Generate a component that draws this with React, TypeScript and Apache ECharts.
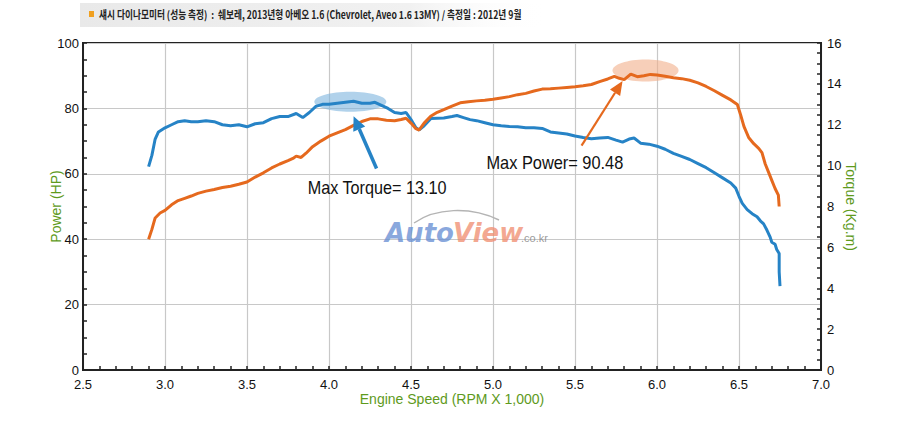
import { useEffect, useRef } from 'react';
import * as echarts from 'echarts';

const TITLE = '섀시 다이나모미터 (성능 측정)  :  쉐보레, 2013년형 아베오 1.6 (Chevrolet, Aveo 1.6 13MY) / 측정일 : 2012년 9월';
const X_NAME = 'Engine Speed (RPM X 1,000)';
const LEFT_NAME = 'Power (HP)';
const RIGHT_NAME = 'Torque (Kg.m)';

// torque curve (kg.m) vs engine speed (x1000 rpm)
const torqueRpm = [
  2.9, 2.92, 2.94, 2.96, 3.0, 3.04, 3.08, 3.12, 3.16, 3.2, 3.25, 3.3, 3.35, 3.4, 3.45, 3.5, 3.55, 3.6, 3.65, 3.7,
  3.75, 3.8, 3.84, 3.88, 3.92, 3.96, 4.0, 4.05, 4.1, 4.15, 4.2, 4.25, 4.28, 4.32, 4.36, 4.4, 4.44, 4.47, 4.5, 4.53,
  4.55, 4.58, 4.62, 4.66, 4.7, 4.75, 4.78, 4.82, 4.86, 4.9, 4.95, 5.0, 5.05, 5.1, 5.15, 5.2, 5.25, 5.3, 5.35, 5.4,
  5.45, 5.5, 5.55, 5.6, 5.65, 5.7, 5.75, 5.79, 5.83, 5.86, 5.9, 5.95, 6.0, 6.05, 6.1, 6.15, 6.2, 6.25, 6.3, 6.35,
  6.4, 6.45, 6.48, 6.5, 6.52, 6.55, 6.58, 6.61, 6.63, 6.65, 6.67, 6.69, 6.7, 6.72, 6.73, 6.745, 6.745, 6.75,
];
const torque = [
  9.95, 10.5, 11.3, 11.65, 11.85, 12.0, 12.15, 12.2, 12.15, 12.15, 12.2, 12.15, 12.0, 11.95, 12.0, 11.9, 12.05, 12.1, 12.3, 12.4,
  12.4, 12.55, 12.35, 12.6, 12.9, 13.0, 13.0, 13.05, 13.1, 13.15, 13.05, 13.05, 13.1, 12.95, 12.8, 12.6, 12.55, 12.6, 12.25, 11.85,
  11.75, 11.95, 12.3, 12.32, 12.33, 12.4, 12.45, 12.35, 12.25, 12.2, 12.1, 12.0, 11.95, 11.92, 11.9, 11.85, 11.85, 11.82, 11.65, 11.6,
  11.55, 11.45, 11.38, 11.32, 11.35, 11.38, 11.25, 11.15, 11.3, 11.35, 11.1, 11.05, 10.95, 10.8, 10.6, 10.45, 10.3, 10.1, 9.9, 9.65,
  9.4, 9.15, 8.9, 8.5, 8.15, 7.85, 7.65, 7.5, 7.3, 7.15, 6.85, 6.5, 6.25, 6.15, 5.9, 5.7, 4.8, 4.1,
];

// power curve (HP) vs engine speed (x1000 rpm)
const powerRpm = [
  2.9, 2.92, 2.94, 2.97, 3.0, 3.04, 3.08, 3.12, 3.16, 3.2, 3.25, 3.3, 3.35, 3.4, 3.45, 3.5, 3.55, 3.6, 3.65, 3.7,
  3.75, 3.78, 3.8, 3.83, 3.86, 3.9, 3.95, 4.0, 4.05, 4.1, 4.15, 4.2, 4.25, 4.3, 4.35, 4.4, 4.44, 4.47, 4.5, 4.53,
  4.55, 4.58, 4.62, 4.66, 4.7, 4.75, 4.8, 4.85, 4.9, 4.95, 5.0, 5.05, 5.1, 5.15, 5.2, 5.25, 5.3, 5.35, 5.4, 5.45,
  5.5, 5.55, 5.6, 5.65, 5.7, 5.74, 5.77, 5.8, 5.84, 5.88, 5.92, 5.96, 6.0, 6.05, 6.1, 6.15, 6.2, 6.25, 6.3, 6.35,
  6.4, 6.45, 6.49, 6.51, 6.53, 6.56, 6.59, 6.62, 6.64, 6.66, 6.68, 6.7, 6.72, 6.74, 6.745,
];
const power = [
  40, 43, 46.5, 48, 48.8, 50.5, 51.8, 52.5, 53.2, 54, 54.7, 55.2, 55.8, 56.2, 56.8, 57.5, 59, 60.3, 61.8, 63,
  64, 64.7, 65.4, 65, 66.3, 68.3, 70, 71.5, 72.5, 73.5, 74.8, 76, 76.8, 76.8, 76.4, 76.2, 76.6, 77, 75.5, 73.8,
  73.4, 75.5, 77.6, 78.8, 79.6, 80.7, 81.7, 82, 82.3, 82.5, 82.8, 83.2, 83.6, 84.2, 84.6, 85.3, 85.9, 86, 86.2, 86.4,
  86.6, 86.9, 87.3, 88.2, 89, 89.8, 89.2, 88.8, 90.48, 89.7, 90.0, 90.4, 90.2, 89.8, 89.4, 89.1, 88.6, 87.8, 86.7, 85.4,
  84, 82.6, 81.2, 78, 74.5, 71, 69.2, 67.8, 66.5, 63, 60.5, 58, 55.5, 53.5, 50,
];

// annotation anchors, in (rpm, HP) data coordinates
const torqueNote = { text: 'Max Torque= 13.10', label: [3.87, 55.5], ellipse: [4.13, 82.0], tail: [4.29, 61.6], tip: [4.15, 77.6] };
const powerNote = { text: 'Max Power= 90.48', label: [4.96, 63.4], ellipse: [5.93, 91.6], tail: [5.54, 68.6], tip: [5.79, 88.4] };

const GREEN = '#5e9a1c';
const BLUE = '#2683c6';
const ORANGE = '#e5691e';
const SANS = "'Liberation Sans', Arial, sans-serif";

function arrow(tail: number[], tip: number[], color: string, width: number, headLen: number, headW: number) {
  const dx = tip[0] - tail[0];
  const dy = tip[1] - tail[1];
  const len = Math.hypot(dx, dy);
  const ux = dx / len;
  const uy = dy / len;
  const bx = tip[0] - ux * headLen;
  const by = tip[1] - uy * headLen;
  return [
    { type: 'line', z: 100, shape: { x1: tail[0], y1: tail[1], x2: bx, y2: by }, style: { stroke: color, lineWidth: width } },
    {
      type: 'polygon',
      z: 100,
      shape: { points: [tip, [bx - uy * headW, by + ux * headW], [bx + uy * headW, by - ux * headW]] },
      style: { fill: color },
    },
  ];
}

export default function App() {
  const chartRef = useRef<HTMLDivElement | null>(null);

  useEffect(() => {
    if (!chartRef.current) {
      return;
    }
    const chart = echarts.init(chartRef.current, undefined, { renderer: 'svg' });
    const axisLine = { lineStyle: { color: '#222', width: 2 } };
    const tick = { inside: true, length: 4, lineStyle: { color: '#222', width: 1.5 } };
    const label = { color: '#111', fontSize: 13, lineHeight: 14, fontFamily: SANS };
    const nameStyle = { color: GREEN, fontSize: 14, lineHeight: 15, fontFamily: SANS };
    chart.setOption({
      animation: false,
      grid: { left: 83, right: 79, top: 43, bottom: 52, show: true, borderColor: '#222', borderWidth: 2 },
      xAxis: {
        type: 'value',
        min: 2.5,
        max: 7,
        interval: 0.5,
        name: X_NAME,
        nameLocation: 'middle',
        nameGap: 21,
        nameMoveOverlap: false,
        nameTextStyle: nameStyle,
        axisLine,
        axisTick: tick,
        minorTick: { show: true, splitNumber: 5, length: 4, lineStyle: { color: '#222', width: 1.5 } },
        axisLabel: { ...label, margin: 7, formatter: (v: number) => v.toFixed(1) },
        splitLine: { show: true, lineStyle: { color: '#c8c8c8', width: 1.2 } },
      },
      yAxis: [
        {
          type: 'value',
          position: 'left',
          min: 0,
          max: 100,
          interval: 20,
          name: LEFT_NAME,
          nameLocation: 'middle',
          nameGap: 20,
          nameMoveOverlap: false,
          nameTextStyle: nameStyle,
          axisLine: { show: true, ...axisLine },
          axisTick: tick,
          minorTick: { show: true, splitNumber: 4, length: 4, lineStyle: { color: '#222', width: 1.5 } },
          axisLabel: { ...label, margin: 4 },
          splitLine: { show: true, lineStyle: { color: '#c8c8c8', width: 1.2 } },
        },
        {
          type: 'value',
          position: 'right',
          min: 0,
          max: 16,
          interval: 2,
          name: RIGHT_NAME,
          nameLocation: 'middle',
          nameRotate: -90,
          nameGap: 22,
          nameMoveOverlap: false,
          nameTextStyle: nameStyle,
          axisLine: { show: true, ...axisLine },
          axisTick: tick,
          minorTick: { show: true, splitNumber: 4, length: 4, lineStyle: { color: '#222', width: 1.5 } },
          axisLabel: { ...label, margin: 6 },
          splitLine: { show: false },
        },
      ],
      series: [
        {
          type: 'line',
          name: 'Torque',
          yAxisIndex: 1,
          showSymbol: false,
          data: torqueRpm.map((r, i) => [r, torque[i]]),
          lineStyle: { color: BLUE, width: 3 },
          z: 3,
        },
        {
          type: 'line',
          name: 'Power',
          yAxisIndex: 0,
          showSymbol: false,
          data: powerRpm.map((r, i) => [r, power[i]]),
          lineStyle: { color: ORANGE, width: 3 },
          z: 4,
        },
      ],
    });

    const px = (p: number[]) => chart.convertToPixel({ xAxisIndex: 0, yAxisIndex: 0 }, p) as number[];
    const tEll = px(torqueNote.ellipse);
    const pEll = px(powerNote.ellipse);
    const tLab = px(torqueNote.label);
    const pLab = px(powerNote.label);

    chart.setOption({
      graphic: [
        {
          type: 'rect',
          z: 0,
          shape: { x: 80, y: 3, width: 470, height: 24 },
          style: {
            fill: new echarts.graphic.LinearGradient(0, 0, 1, 0, [
              { offset: 0, color: '#e9e9e9' },
              { offset: 0.7, color: '#f1f1f1' },
              { offset: 1, color: 'rgba(255,255,255,0)' },
            ]),
          },
        },
        { type: 'rect', z: 1, shape: { x: 89, y: 11, width: 5, height: 6 }, style: { fill: '#f0a020' } },
        {
          type: 'text',
          z: 1,
          x: 99,
          y: 15,
          scaleX: 0.79,
          style: {
            text: TITLE,
            fontSize: 11,
            fontWeight: 'bold',
            fontFamily: "'Noto Sans CJK KR', sans-serif",
            fill: '#222',
            verticalAlign: 'middle',
          },
        },
        // watermark
        {
          type: 'bezierCurve',
          z: 0,
          shape: { x1: 414, y1: 223, cpx1: 435, cpy1: 208, cpx2: 470, cpy2: 206, x2: 499, y2: 220 },
          style: { stroke: '#b4b4b4', lineWidth: 1.5, fill: 'none' },
        },
        {
          type: 'text',
          z: 0,
          x: 385,
          y: 246,
          style: {
            text: 'Auto',
            fontSize: 26,
            fontWeight: 'bold',
            fontStyle: 'italic',
            fontFamily: "'DejaVu Sans', sans-serif",
            fill: 'rgba(100,140,210,0.75)',
            verticalAlign: 'bottom',
          },
        },
        {
          type: 'text',
          z: 0,
          x: 453,
          y: 246,
          style: {
            text: 'View',
            fontSize: 26,
            fontWeight: 'bold',
            fontStyle: 'italic',
            fontFamily: "'DejaVu Sans', sans-serif",
            fill: 'rgba(240,140,110,0.75)',
            verticalAlign: 'bottom',
          },
        },
        {
          type: 'text',
          z: 0,
          x: 521,
          y: 243,
          style: { text: '.co.kr', fontSize: 11, fontFamily: SANS, fill: 'rgba(130,130,130,0.8)', verticalAlign: 'bottom' },
        },
        // highlight ellipses
        { type: 'ellipse', z: 1, shape: { cx: tEll[0], cy: tEll[1], rx: 36, ry: 10 }, style: { fill: 'rgba(125,180,222,0.6)' } },
        { type: 'ellipse', z: 1, shape: { cx: pEll[0], cy: pEll[1], rx: 33, ry: 11 }, style: { fill: 'rgba(242,175,138,0.6)' } },
        ...arrow(px(torqueNote.tail), px(torqueNote.tip), BLUE, 3.5, 14, 6.5),
        ...arrow(px(powerNote.tail), px(powerNote.tip), ORANGE, 2.2, 14, 6),
        {
          type: 'text',
          z: 100,
          x: tLab[0],
          y: tLab[1],
          scaleX: 0.9,
          style: { text: torqueNote.text, fontSize: 18, fontFamily: SANS, fill: '#111', verticalAlign: 'middle' },
        },
        {
          type: 'text',
          z: 100,
          x: pLab[0],
          y: pLab[1],
          scaleX: 0.91,
          style: { text: powerNote.text, fontSize: 18, fontFamily: SANS, fill: '#111', verticalAlign: 'middle' },
        },
      ],
    });

    return () => chart.dispose();
  }, []);

  return <div ref={chartRef} style={{ position: 'fixed', left: 0, top: 0, width: 900, height: 422, background: '#fff' }} />;
}
